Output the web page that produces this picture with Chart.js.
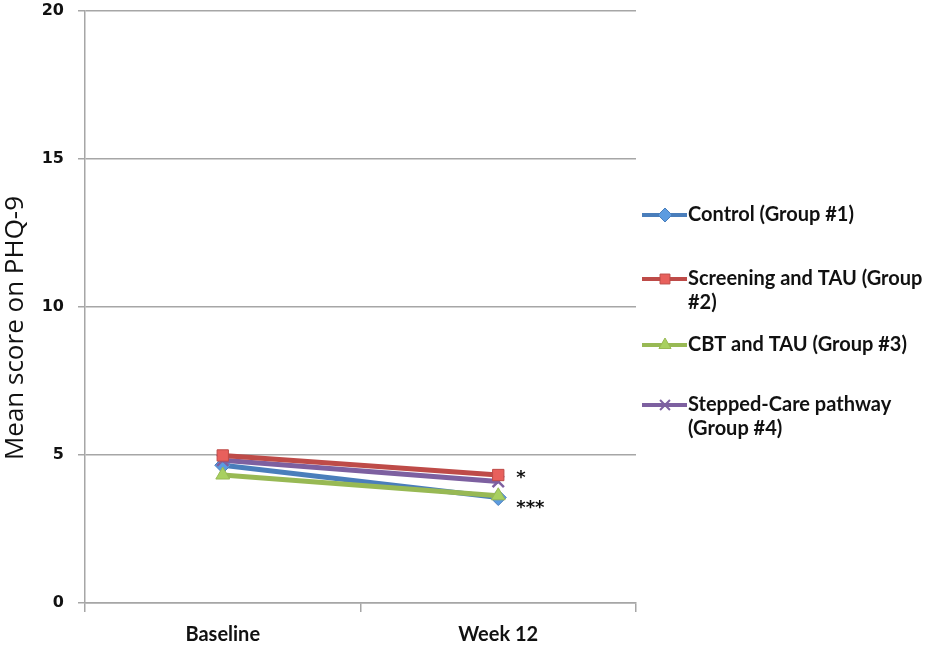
<!DOCTYPE html>
<html>
<head>
<meta charset="utf-8">
<script src="https://cdn.jsdelivr.net/npm/chart.js@4/dist/chart.umd.min.js"></script>
<style>
  html, body { margin: 0; padding: 0; background: #fff; }
</style>
</head>
<body>
<canvas id="chart" width="930" height="650"></canvas>
<script>
// data
const timepoints = ['Baseline', 'Week 12'];
const control = [4.65, 3.56];
const screening = [4.98, 4.32];
const cbt = [4.32, 3.62];
const stepped = [4.82, 4.1];
const yTicks = [0, 5, 10, 15, 20];
const groupLabels = [
    ['Control (Group #1)'],
    ['Screening and TAU (Group', '#2)'],
    ['CBT and TAU (Group #3)'],
    ['Stepped-Care pathway', '(Group #4)']
];
const yTitle = 'Mean score on PHQ-9';
const signif = [{ text: '*', at: 4.3 }, { text: '***', at: 3.3 }];

const lineColors = ['#4a7ebb', '#be4b48', '#98b954', '#7d60a0'];
const pointFill = ['#5b9be0', '#e8605c', '#a8d060', '#8c6cb4'];
const pointShapes = ['rectRot', 'rect', 'triangle', 'crossRot'];
const series = [control, screening, cbt, stepped];

const boldFont = 'Lato, "Open Sans", sans-serif';

const sideLegend = {
    id: 'sideLegend',
    afterDraw(chart) {
        const ctx = chart.ctx;
        const tops = [215, 279, 345, 405];
        ctx.save();
        groupLabels.forEach((lines, i) => {
            const y = tops[i];
            ctx.strokeStyle = lineColors[i];
            ctx.lineWidth = 4;
            ctx.beginPath();
            ctx.moveTo(642, y);
            ctx.lineTo(687, y);
            ctx.stroke();
            ctx.fillStyle = pointFill[i];
            ctx.strokeStyle = lineColors[i];
            ctx.lineWidth = pointShapes[i] === 'crossRot' ? 2 : 1;
            Chart.helpers.drawPoint(ctx, { pointStyle: pointShapes[i], radius: 7, borderWidth: ctx.lineWidth }, 665, y);
            ctx.fillStyle = '#111';
            ctx.font = 'bold 20px ' + boldFont;
            ctx.textBaseline = 'middle';
            ctx.textAlign = 'left';
            lines.forEach((t, k) => ctx.fillText(t, 688, y + k * 24));
        });

        // significance stars next to week 12
        const xs = chart.scales.x, ys = chart.scales.y;
        ctx.font = 'bold 18px "DejaVu Sans", sans-serif';
        ctx.fillStyle = '#111';
        signif.forEach(s => {
            ctx.fillText(s.text, xs.getPixelForValue(1) + 18, ys.getPixelForValue(s.at) + 3);
        });

        // y axis title, set a little below the middle like the original
        ctx.translate(16, 328);
        ctx.rotate(-Math.PI / 2);
        ctx.font = '26px "Open Sans", sans-serif';
        ctx.textAlign = 'center';
        ctx.fillText(yTitle, 0, 0);
        ctx.restore();
    }
};

new Chart(document.getElementById('chart'), {
    type: 'line',
    data: {
        labels: timepoints,
        datasets: groupLabels.map((l, i) => ({
            label: l.join(' '),
            data: series[i],
            borderColor: lineColors[i],
            backgroundColor: pointFill[i],
            pointBackgroundColor: pointFill[i],
            pointBorderColor: lineColors[i],
            pointStyle: pointShapes[i],
            pointRadius: 8,
            pointBorderWidth: pointShapes[i] === 'crossRot' ? 2.5 : 1,
            borderWidth: 5,
            order: [3, 0, 2, 1][i]
        }))
    },
    options: {
        responsive: false,
        animation: false,
        devicePixelRatio: 1,
        layout: { padding: { top: 10, right: 294, left: 0, bottom: 0 } },
        plugins: {
            legend: { display: false },
            tooltip: { enabled: false }
        },
        scales: {
            x: {
                offset: true,
                grid: {
                    offset: true, drawOnChartArea: false, tickLength: 9,
                    color: '#a6a6a6', lineWidth: 1.5
                },
                border: { color: '#a6a6a6', width: 1.5 },
                ticks: {
                    color: '#111', maxRotation: 0, padding: 11,
                    font: { family: boldFont, size: 20, weight: 'bold' }
                },
                afterFit: s => { s.height = 47; s.paddingTop = 0; s.paddingBottom = 0; }
            },
            y: {
                min: 0, max: 20,
                afterBuildTicks: s => { s.ticks = yTicks.map(v => ({ value: v })); },
                grid: { color: '#a6a6a6', lineWidth: 1.5, tickLength: 7 },
                border: { color: '#a6a6a6', width: 1.5 },
                ticks: { color: '#111', font: { family: '"DejaVu Sans", sans-serif', size: 16, weight: 'bold' }, padding: 14 },
                afterFit: s => { s.width = 85; s.paddingTop = 0; s.paddingBottom = 0; }
            }
        }
    },
    plugins: [sideLegend]
});
</script>
</body>
</html>
